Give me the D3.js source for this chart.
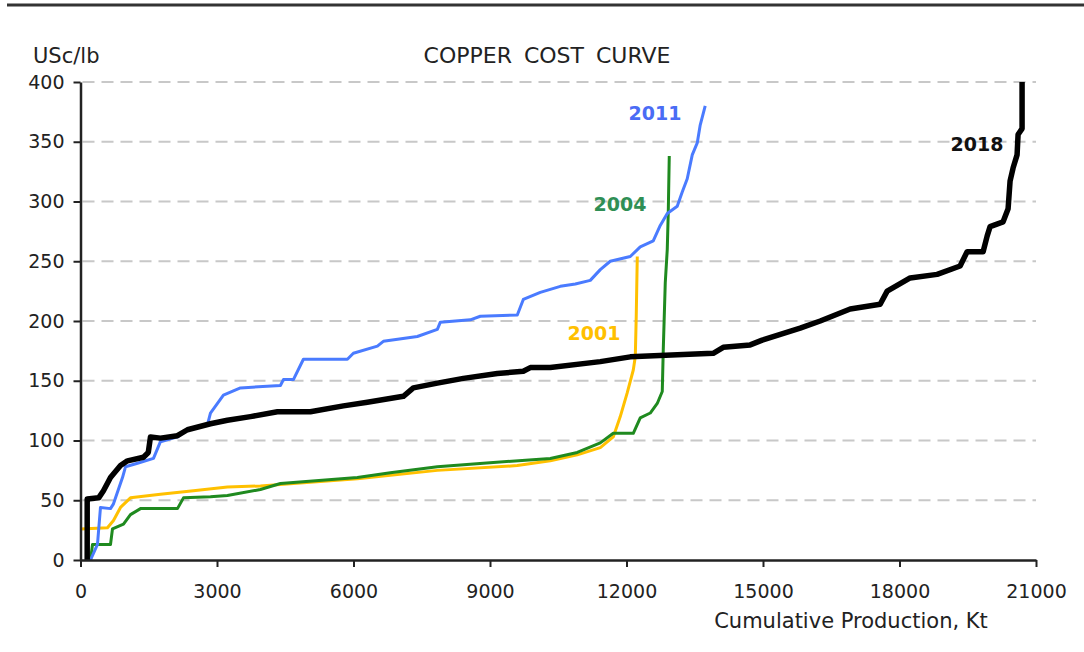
<!DOCTYPE html>
<html>
<head>
<meta charset="utf-8">
<script src="https://cdn.jsdelivr.net/npm/d3@7"></script>
<style>
  body { margin: 0; background: #fff; }
  text { font-family: "DejaVu Sans", Verdana, sans-serif; }
</style>
</head>
<body>
<div id="chart"></div>
<script>
// cumulative production (Kt) and cash cost (USc/lb)
var kt2001 = [0, 593, 725, 879, 1098, 1757, 2482, 3229, 3954, 4679, 6085, 7843, 9600, 10325, 10918, 11424, 11709, 11863, 12017, 12149, 12193, 12214, 12237];
var cost2001 = [26, 27, 33, 44, 52, 55, 58, 61, 62, 64, 68, 75, 79, 83, 88, 94, 103, 120, 140, 159, 170, 204, 254];

var kt2004 = [220, 264, 659, 703, 945, 1098, 1318, 2131, 2263, 2856, 3229, 3954, 4394, 6085, 6810, 7843, 8853, 10325, 10918, 11424, 11709, 12149, 12302, 12522, 12676, 12786, 12808, 12852, 12896, 12918, 12940];
var cost2004 = [0, 13, 13, 26, 30, 38, 43, 43, 52, 53, 54, 59, 64, 69, 73, 78, 81, 85, 90, 98, 106, 106, 119, 123, 131, 141, 176, 232, 260, 291, 338];

var kt2011 = [220, 373, 439, 659, 725, 923, 989, 1252, 1604, 1757, 2131, 2350, 2790, 2856, 3141, 3515, 4394, 4460, 4679, 4899, 5866, 5997, 6525, 6656, 7403, 7843, 7909, 8568, 8787, 9600, 9732, 10105, 10545, 10875, 11204, 11424, 11643, 12083, 12302, 12588, 12742, 12896, 13115, 13225, 13335, 13445, 13555, 13620, 13730];
var cost2011 = [0, 13, 44, 43, 47, 69, 78, 81, 85, 99, 103, 109, 113, 123, 138, 144, 146, 151, 151, 168, 168, 173, 179, 183, 187, 193, 199, 201, 204, 205, 218, 224, 229, 231, 234, 243, 250, 254, 262, 267, 280, 290, 296, 308, 319, 339, 349, 364, 380];

var kt2018 = [147, 147, 400, 505, 659, 879, 1032, 1384, 1490, 1538, 1757, 2130, 2350, 2856, 3229, 3735, 4328, 5053, 5778, 6305, 7096, 7315, 7843, 8414, 9161, 9732, 9886, 10325, 11424, 12083, 13247, 13906, 14126, 14719, 14982, 15817, 16257, 16916, 17575, 17729, 18234, 18827, 19332, 19486, 19838, 19926, 19991, 20277, 20387, 20430, 20496, 20584, 20606, 20694, 20694];
var cost2018 = [0, 51, 52, 58, 69, 79, 83, 86, 90, 103, 102, 104, 109, 114, 117, 120, 124, 124, 129, 132, 137, 144, 148, 152, 156, 158, 161, 161, 166, 170, 172, 173, 178, 180, 184, 194, 200, 210, 214, 225, 236, 239, 246, 258, 258, 271, 279, 283, 294, 317, 328, 339, 356, 361, 400];

var xTicks = [0, 3000, 6000, 9000, 12000, 15000, 18000, 21000];
var yTicks = [0, 50, 100, 150, 200, 250, 300, 350, 400];

var series = [
  { name: "2001", kt: kt2001, cost: cost2001, color: "#ffc000", text: "#ffc000", w: 3, lx: 594, ly: 333 },
  { name: "2004", kt: kt2004, cost: cost2004, color: "#1f8a1f", text: "#2f8f55", w: 3, lx: 620, ly: 204 },
  { name: "2011", kt: kt2011, cost: cost2011, color: "#4a7bff", text: "#4a6cf5", w: 3, lx: 655, ly: 113 },
  { name: "2018", kt: kt2018, cost: cost2018, color: "#000000", text: "#111111", w: 5.5, lx: 977, ly: 144 }
];

var W = 1084, H = 652;
var svg = d3.select("#chart").append("svg")
  .attr("width", W)
  .attr("height", H);

var x = d3.scaleLinear().domain([0, 21000]).range([80.5, 1036]);
var y = d3.scaleLinear().domain([0, 400]).range([560, 82]);

// top rule
svg.append("line")
  .attr("x1", 7).attr("x2", W).attr("y1", 5).attr("y2", 5)
  .attr("stroke", "#333").attr("stroke-width", 3);

// gridlines
svg.append("g")
  .selectAll("line")
  .data(yTicks.filter(function (d) { return d > 0; }))
  .enter()
  .append("line")
  .attr("x1", x(0) + 2).attr("x2", x(21000))
  .attr("y1", function (d) { return y(d); })
  .attr("y2", function (d) { return y(d); })
  .attr("stroke", "#c8c8c8")
  .attr("stroke-width", 2)
  .attr("stroke-dasharray", "12,7");

// lines
var line = d3.line()
  .x(function (d) { return x(d[0]); })
  .y(function (d) { return y(d[1]); });

series.forEach(function (s) {
  var pts = s.kt.map(function (k, i) { return [k, s.cost[i]]; });
  svg.append("path")
    .datum(pts)
    .attr("d", line)
    .attr("fill", "none")
    .attr("stroke", s.color)
    .attr("stroke-width", s.w)
    .attr("stroke-linejoin", "round");
});

// axes
var xAxis = svg.append("g")
  .attr("transform", "translate(0," + y(0) + ")")
  .call(d3.axisBottom(x).tickValues(xTicks).tickFormat(d3.format("d"))
    .tickSize(7).tickSizeOuter(0).tickPadding(18));

var yAxis = svg.append("g")
  .attr("transform", "translate(" + x(0) + ",0)")
  .call(d3.axisLeft(y).tickValues(yTicks).tickSize(7).tickSizeOuter(0).tickPadding(9));

[xAxis, yAxis].forEach(function (a) {
  a.select(".domain").attr("stroke", "#222").attr("stroke-width", 2.5);
  a.selectAll(".tick line").attr("stroke", "#222").attr("stroke-width", 2);
  a.selectAll(".tick text")
    .attr("fill", "#222")
    .style("font-size", "19px")
    .style("font-family", "'DejaVu Sans', Verdana, sans-serif");
});

// labels
series.forEach(function (s) {
  svg.append("text")
    .attr("x", s.lx).attr("y", s.ly)
    .attr("text-anchor", "middle")
    .attr("dominant-baseline", "central")
    .attr("fill", s.text)
    .style("font-size", "19px")
    .style("font-weight", "bold")
    .text(s.name);
});

svg.append("text")
  .attr("x", 547).attr("y", 63)
  .attr("text-anchor", "middle")
  .attr("fill", "#222")
  .style("font-size", "22px")
  .style("word-spacing", "5px")
  .text("COPPER COST CURVE");

svg.append("text")
  .attr("x", 33).attr("y", 63)
  .attr("fill", "#222")
  .style("font-size", "21px")
  .text("USc/lb");

svg.append("text")
  .attr("x", 851).attr("y", 628)
  .attr("text-anchor", "middle")
  .attr("fill", "#222")
  .style("font-size", "21px")
  .text("Cumulative Production, Kt");
</script>
</body>
</html>
